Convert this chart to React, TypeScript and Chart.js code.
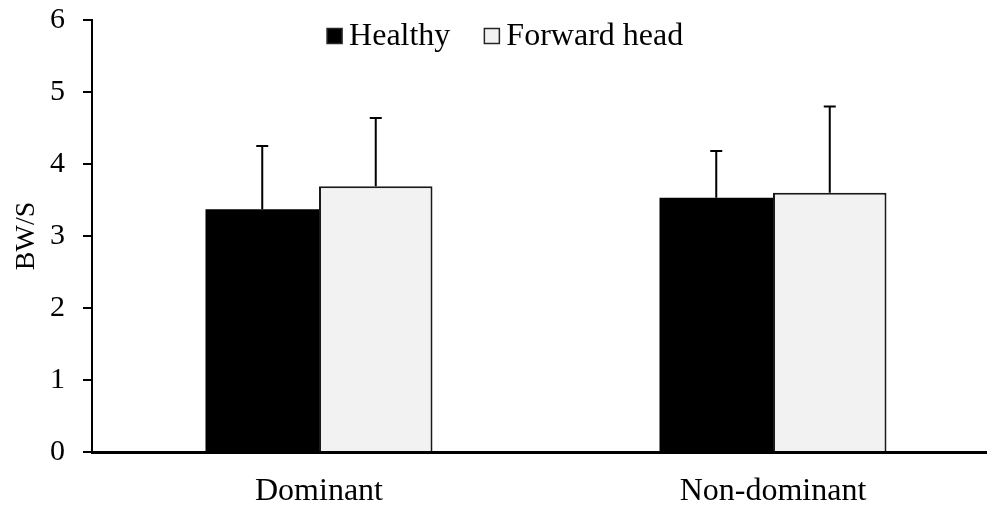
import React, { useEffect, useRef } from "react";
import { Chart, registerables } from "chart.js";

Chart.register(...registerables);

const categories = ["Dominant", "Non-dominant"];
const seriesNames = ["Healthy", "Forward head"];
const healthyValues = [3.37, 3.53];
const healthyErrors = [0.88, 0.65];
const forwardValues = [3.69, 3.6];
const forwardErrors = [0.95, 1.2];
const yTicks = [0, 1, 2, 3, 4, 5, 6];

const FONT = "'Liberation Serif', 'Times New Roman', serif";

const errorBarPlugin = {
  id: "errorBars",
  afterDatasetsDraw(chart: any) {
    const ctx = chart.ctx;
    const yScale = chart.scales.y;
    chart.data.datasets.forEach((ds: any, di: number) => {
      const meta = chart.getDatasetMeta(di);
      meta.data.forEach((el: any, i: number) => {
        const v = ds.data[i];
        const e = ds.errors[i];
        const yTop = yScale.getPixelForValue(v + e);
        const yBot = el.y;
        ctx.save();
        ctx.strokeStyle = "#000";
        ctx.lineWidth = 2;
        ctx.beginPath();
        ctx.moveTo(el.x, yBot);
        ctx.lineTo(el.x, yTop);
        ctx.moveTo(el.x - 6, yTop);
        ctx.lineTo(el.x + 6, yTop);
        ctx.stroke();
        ctx.restore();
      });
    });
  },
};

const legendPlugin = {
  id: "customLegend",
  afterDraw(chart: any) {
    const ctx = chart.ctx;
    const ds = chart.data.datasets;
    ctx.save();
    ctx.font = `32px ${FONT}`;
    ctx.textBaseline = "middle";
    const box = 15;
    const gapText = 7;
    const gapItem = 34;
    const widths = ds.map((d: any) => box + gapText + ctx.measureText(d.label).width);
    const total = widths.reduce((a: number, b: number) => a + b, 0) + gapItem * (ds.length - 1);
    const center = chart.chartArea.left + (chart.chartArea.right - chart.chartArea.left) * 0.455;
    let x = center - total / 2;
    const yMid = 36;
    ds.forEach((d: any, i: number) => {
      ctx.fillStyle = d.backgroundColor;
      ctx.fillRect(x, yMid - box / 2, box, box);
      ctx.strokeStyle = "#262626";
      ctx.lineWidth = 1.5;
      ctx.strokeRect(x, yMid - box / 2, box, box);
      ctx.fillStyle = "#000";
      ctx.fillText(d.label, x + box + gapText, yMid + 1);
      x += widths[i] + gapItem;
    });
    ctx.restore();
  },
};

export default function App() {
  const ref = useRef<HTMLCanvasElement | null>(null);
  useEffect(() => {
    if (!ref.current) return;
    const chart = new Chart(ref.current, {
      type: "bar",
      data: {
        labels: categories,
        datasets: [
          {
            label: seriesNames[0],
            data: healthyValues,
            errors: healthyErrors,
            backgroundColor: "#000000",
            borderColor: "#000000",
            borderWidth: 0,
          } as any,
          {
            label: seriesNames[1],
            data: forwardValues,
            errors: forwardErrors,
            backgroundColor: "#f2f2f2",
            borderColor: "#1a1a1a",
            borderWidth: 2,
          } as any,
        ],
      },
      options: {
        responsive: false,
        animation: false,
        layout: { padding: { top: 20, right: 4, left: 0, bottom: 0 } },
        datasets: { bar: { categoryPercentage: 0.5, barPercentage: 1.0 } },
        plugins: { legend: { display: false }, tooltip: { enabled: false } },
        scales: {
          x: {
            grid: { display: false, drawTicks: false },
            border: { display: true, color: "#000", width: 3 },
            ticks: { color: "#000", font: { family: FONT, size: 32 }, padding: 20, maxRotation: 0 },
            afterFit(scale: any) {
              scale.height = 55;
              scale.paddingLeft = 0;
              scale.paddingRight = 0;
              scale.paddingTop = 0;
              scale.paddingBottom = 0;
            },
          },
          y: {
            min: 0,
            max: 6,
            afterBuildTicks(scale: any) {
              scale.ticks = yTicks.map((v) => ({ value: v }));
            },
            grid: { drawOnChartArea: false, drawTicks: true, tickLength: 9, color: "#000", lineWidth: 2 },
            border: { display: true, color: "#000", width: 2 },
            ticks: { color: "#000", font: { family: FONT, size: 30 }, padding: 18 },
            title: {
              display: true,
              text: "BW/S",
              color: "#000",
              font: { family: FONT, size: 28 },
              padding: { top: 10, bottom: 0 },
            },
            afterFit(scale: any) {
              scale.width = 92;
              scale.paddingTop = 0;
              scale.paddingBottom = 0;
              scale.paddingLeft = 0;
              scale.paddingRight = 0;
            },
          },
        },
      },
      plugins: [errorBarPlugin, legendPlugin],
    });
    return () => chart.destroy();
  }, []);
  return (
    <div style={{ position: "fixed", left: 0, top: 0, width: 987, height: 507, overflow: "hidden", background: "#fff" }}>
      <canvas ref={ref} width={1004} height={507} style={{ width: 1004, height: 507, display: "block" }} />
    </div>
  );
}
